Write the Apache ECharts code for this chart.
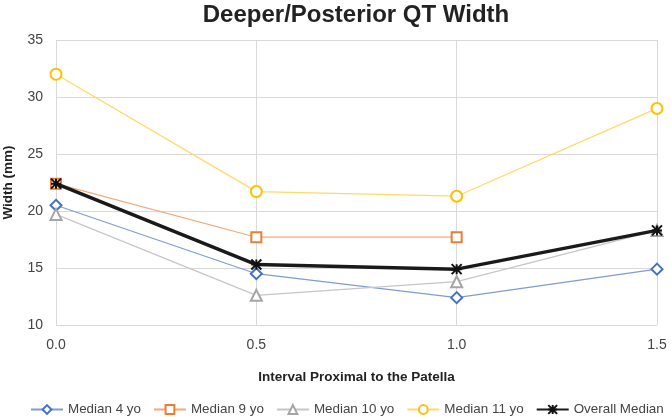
<!DOCTYPE html>
<html><head><meta charset="utf-8">
<script src="https://cdn.jsdelivr.net/npm/echarts@6/dist/echarts.min.js"></script>
<style>html,body{margin:0;padding:0;background:#fff}#c{width:671px;height:417px}</style>
</head><body><div id="c"></div>
<script>
const xValues = [0.0, 0.5, 1.0, 1.5];
const median4 = [20.5, 14.5, 12.4, 14.9];
const median9 = [22.4, 17.7, 17.7, null];
const median10 = [19.7, 12.6, 13.8, 18.3];
const median11 = [32.0, 21.7, 21.3, 29.0];
const overall = [22.4, 15.3, 14.9, 18.3];
const seriesNames = ['Median 4 yo', 'Median 9 yo', 'Median 10 yo', 'Median 11 yo', 'Overall Median'];

const pair = arr => xValues.map((x, i) => [x, arr[i]]);
const font = 'Liberation Sans, Arial, sans-serif';
const star = 'path://M0,0 L10,10 M10,0 L0,10 M5,0 L5,10 M0,5 L10,5';

function mk(name, data, color, lineColor, symbol, extra) {
  return Object.assign({
    name, type: 'line', data: pair(data), symbol, symbolSize: 10,
    lineStyle: { color: lineColor, width: 1.2 },
    itemStyle: { color: '#fff', borderColor: color, borderWidth: 2 },
    connectNulls: false, z: 2
  }, extra || {});
}

const chart = echarts.init(document.getElementById('c'), null, { renderer: 'canvas' });
chart.setOption({
  animation: false,
  backgroundColor: '#fff',
  title: { text: 'Deeper/Posterior QT Width', left: 356, textAlign: 'center', top: 3, padding: 0,
    textStyle: { fontFamily: font, fontSize: 24, fontWeight: 'bold', color: '#222' } },
  grid: { left: 56, right: 14, top: 40, bottom: 92, outerBoundsMode: 'none', containLabel: false },
  xAxis: {
    type: 'value', min: 0, max: 1.5, interval: 0.5,
    name: 'Interval Proximal to the Patella', nameLocation: 'middle', nameGap: 45,
    nameTextStyle: { fontFamily: font, fontSize: 13.5, fontWeight: 'bold', color: '#222' },
    axisLine: { show: false }, axisTick: { show: false },
    splitLine: { show: true, lineStyle: { color: '#d9d9d9', width: 1 } },
    axisLabel: { fontFamily: font, fontSize: 14, color: '#444', margin: 13,
      formatter: v => v.toFixed(1) }
  },
  yAxis: {
    type: 'value', min: 10, max: 35, interval: 5,
    name: 'Width (mm)', nameLocation: 'middle', nameGap: 41, nameRotate: 90,
    nameTextStyle: { fontFamily: font, fontSize: 13.5, fontWeight: 'bold', color: '#222' },
    axisLine: { show: false }, axisTick: { show: false },
    splitLine: { show: true, lineStyle: { color: '#d9d9d9', width: 1 } },
    axisLabel: { fontFamily: font, fontSize: 14, color: '#444', margin: 13 }
  },
  legend: {
    bottom: 1, left: 30, width: 660, padding: 0, itemGap: 12, itemWidth: 32, itemHeight: 11,
    textStyle: { fontFamily: font, fontSize: 13.4, color: '#444' },
    data: seriesNames
  },
  series: [
    mk(seriesNames[0], median4, '#4472C4', '#7F9BD3', 'diamond', { symbolSize: 11 }),
    mk(seriesNames[1], median9, '#ED7D31', '#F2A877', 'rect', { symbolSize: 10 }),
    mk(seriesNames[2], median10, '#A5A5A5', '#C6C6C6', 'triangle', { symbolSize: 11 }),
    mk(seriesNames[3], median11, '#FFC000', '#FFD966', 'circle', { symbolSize: 11 }),
    mk(seriesNames[4], overall, '#111', '#111', star, {
      symbolSize: 10, z: 3,
      lineStyle: { color: '#1a1a1a', width: 3.5 },
      itemStyle: { color: '#111', borderColor: '#111', borderWidth: 2 }
    })
  ]
});
</script></body></html>
